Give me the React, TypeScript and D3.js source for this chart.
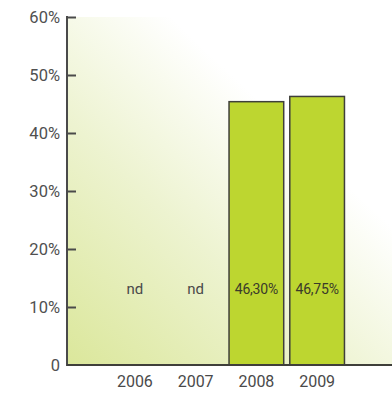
import React, { useEffect, useRef } from 'react';
import * as d3 from 'd3';

const years = ['2006', '2007', '2008', '2009'];
const values: (number | null)[] = [null, null, 0.454, 0.463];
const valueLabels = ['nd', 'nd', '46,30%', '46,75%'];
const yTicks = [0, 0.1, 0.2, 0.3, 0.4, 0.5, 0.6];

const App: React.FC = () => {
  const svgRef = useRef<SVGSVGElement>(null);

  useEffect(() => {
    if (!svgRef.current) return;
    const width = 392;
    const height = 398;
    const svg = d3.select(svgRef.current).attr('width', width).attr('height', height);
    svg.selectAll('*').remove();

    const x0 = 67;
    const y0 = 365;
    const yTop = 17;

    const y = d3.scaleLinear().domain([0, 0.6]).range([y0, yTop]);
    const x = d3.scaleBand().domain(years).range([104.5, 347.5]).paddingInner(0.1).paddingOuter(0.05);

    // Background gradient
    const defs = svg.append('defs');
    const grad = defs.append('linearGradient')
      .attr('id', 'bg')
      .attr('gradientUnits', 'userSpaceOnUse')
      .attr('x1', x0).attr('y1', y0)
      .attr('x2', 290).attr('y2', 130);
    grad.append('stop').attr('offset', 0).attr('stop-color', '#dbe79b');
    grad.append('stop').attr('offset', 0.55).attr('stop-color', '#edf3d0');
    grad.append('stop').attr('offset', 1).attr('stop-color', '#ffffff');

    svg.append('rect')
      .attr('x', x0).attr('y', yTop)
      .attr('width', width - x0).attr('height', y0 - yTop)
      .attr('fill', 'url(#bg)');

    // Bars
    const withVal = years.map((yr, i) => ({ yr, v: values[i], label: valueLabels[i] }));
    svg.selectAll('rect.bar')
      .data(withVal.filter(d => d.v !== null))
      .enter()
      .append('rect')
      .attr('class', 'bar')
      .attr('x', d => x(d.yr)!)
      .attr('y', d => y(d.v as number))
      .attr('width', x.bandwidth())
      .attr('height', d => y0 - y(d.v as number))
      .attr('fill', '#bdd630')
      .attr('stroke', '#3f3f3a')
      .attr('stroke-width', 1.5);

    // Value labels
    svg.selectAll('text.val')
      .data(withVal)
      .enter()
      .append('text')
      .attr('class', 'val')
      .attr('x', d => x(d.yr)! + x.bandwidth() / 2)
      .attr('y', 290)
      .attr('text-anchor', 'middle')
      .attr('dominant-baseline', 'middle')
      .attr('font-family', 'Roboto, sans-serif')
      .attr('font-size', d => (d.v === null ? 15 : 14))
      .attr('fill', d => (d.v === null ? '#4a4a4a' : '#3a3a2a'))
      .attr('letter-spacing', d => (d.v === null ? 0 : -0.2))
      .text(d => d.label);

    // Y axis
    const yAxis = d3.axisLeft(y)
      .tickValues(yTicks)
      .tickSize(-9)
      .tickPadding(8)
      .tickFormat(d => (d === 0 ? '0' : `${Math.round((d as number) * 100)}%`));
    const ag = svg.append('g').attr('transform', `translate(${x0},0)`).call(yAxis);
    ag.select('.domain').remove();
    ag.selectAll('.tick line').attr('stroke', '#4a4a4a').attr('stroke-width', 2)
      .filter(d => d === 0).remove();
    ag.selectAll('.tick text')
      .attr('x', -7)
      .attr('font-family', 'Roboto, sans-serif')
      .attr('font-size', 16.5)
      .attr('fill', '#505050');

    svg.append('line')
      .attr('x1', x0).attr('x2', x0)
      .attr('y1', yTop - 1).attr('y2', y0 + 1)
      .attr('stroke', '#4a4a4a').attr('stroke-width', 2);

    // Baseline
    svg.append('line')
      .attr('x1', x0).attr('x2', width)
      .attr('y1', y0).attr('y2', y0)
      .attr('stroke', '#3f3f3a').attr('stroke-width', 2);

    // X labels
    svg.selectAll('text.xl')
      .data(years)
      .enter()
      .append('text')
      .attr('class', 'xl')
      .attr('x', d => x(d)! + x.bandwidth() / 2)
      .attr('y', 383)
      .attr('text-anchor', 'middle')
      .attr('dominant-baseline', 'middle')
      .attr('font-family', 'Roboto, sans-serif')
      .attr('font-size', 16)
      .attr('fill', '#4a4a4a')
      .text(d => d);
  }, []);

  return (
    <div style={{ position: 'absolute', left: 0, top: 0 }}>
      <svg ref={svgRef}></svg>
    </div>
  );
};

export default App;
